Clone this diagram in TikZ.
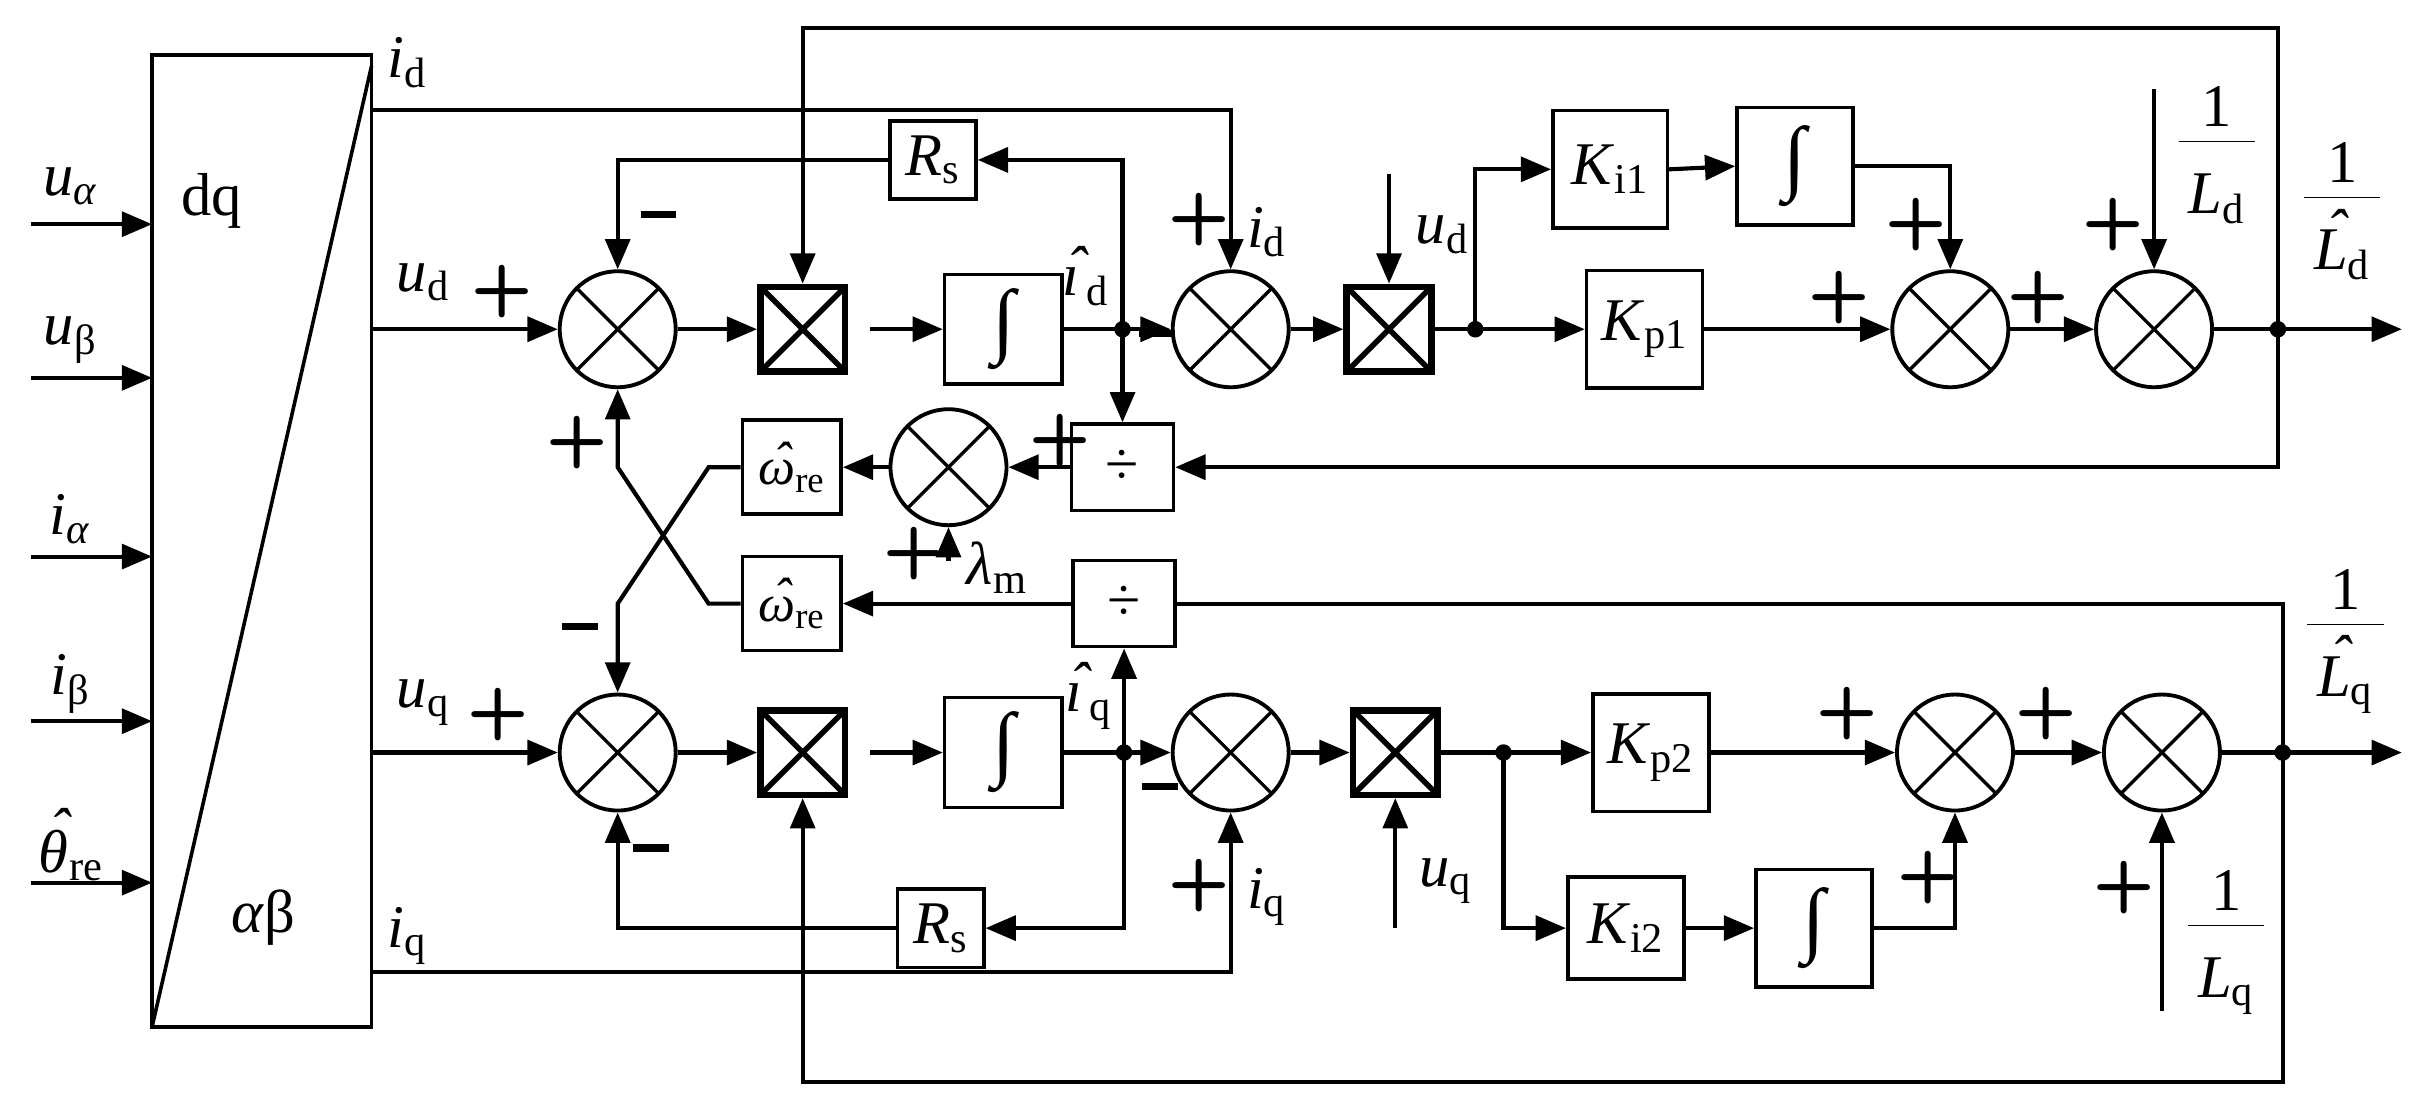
\documentclass[tikz,border=0pt]{standalone}
\usepackage{fontspec}
\setmainfont{Liberation Serif}
\usetikzlibrary{arrows.meta}
\newcommand{\vr}[2]{\textit{#1}\textsubscript{#2}}
\newcommand{\hh}[1]{\leavevmode\vbox{\offinterlineskip\halign{\hfil##\hfil\cr\kern0.2em\char"02C6\cr\noalign{\kern-0.75ex}#1\cr}}}
\newcommand{\fr}[1]{\begin{tabular}{@{\,}c@{\,}}1\\[-2pt]\hline\rule{0pt}{26pt}#1\end{tabular}}
\begin{document}
\begin{tikzpicture}[x=0.02cm,y=-0.02cm,line width=1.5pt,
  >={Triangle[length=11pt,width=9pt]},
  every node/.style={font=\fontsize{22}{24}\selectfont},
  sum/.style={circle,draw,line width=1.4pt,minimum size=1.48cm,inner sep=0pt,
    path picture={\draw[line width=1.2pt] ([shift={(45:0.74cm)}]path picture bounding box.center)--([shift={(225:0.74cm)}]path picture bounding box.center)
      ([shift={(135:0.74cm)}]path picture bounding box.center)--([shift={(315:0.74cm)}]path picture bounding box.center);}},
  mul/.style={rectangle,draw,line width=2.4pt,minimum size=1.08cm,inner sep=0pt,
    path picture={\draw[line width=2pt] (path picture bounding box.north west)--(path picture bounding box.south east)
      (path picture bounding box.north east)--(path picture bounding box.south west);}},
  blk/.style={rectangle,draw,line width=1.3pt,inner sep=0pt},
  intg/.style={blk,font=\fontsize{30}{30}\selectfont},
  om/.style={blk,font=\fontsize{19}{22}\selectfont},
  sg/.style={font=\sffamily\bfseries\fontsize{26}{26}\selectfont,inner sep=0pt},
  dot/.style={circle,fill,inner sep=0pt,minimum size=6pt}]
\def\mn{\rule[0.3ex]{13pt}{2.6pt}}
\useasboundingbox (0,0) rectangle (1550,701);
% dq block
\draw[line width=1.3pt] (97,35) rectangle (237,655);
\draw[line width=1.3pt] (97,655) -- (237,42);
\node (dq) at (135,128) {dq};
\node (ab) at (168,585) {\textit{α}β};
% inputs
\foreach \yy/\lab/\nm in {143/{\vr{u}{\textit{α}}}/a,241/{\vr{u}{β}}/b,355/{\vr{i}{\textit{α}}}/c,460/{\vr{i}{β}}/d,563/{\vr{\hh{θ}}{re}}/e}{
  \coordinate (in\nm) at (20,\yy);
  \coordinate (inb\nm) at (97,\yy);
  \draw[->] (in\nm) -- (inb\nm);
  \node (lab\nm) at (45,\yy-24) {\lab};
}
% output labels of dq
\node (lid) at (260,40) {\vr{i}{d}};
\node (lud) at (270,180) {\vr{u}{d}};
\node (luq) at (270,448) {\vr{u}{q}};
\node (liq) at (260,597) {\vr{i}{q}};
\coordinate (oid) at (237,70);
\coordinate (oud) at (237,210);
\coordinate (ouq) at (237,480);
\coordinate (oiq) at (237,620);
% d row
\node[sum] (sd1) at (394,210) {};
\node[mul] (md1) at (512,210) {};
\node[intg,minimum width=1.5cm,minimum height=1.4cm] (id1) at (640,210) {∫};
\coordinate (jd) at (716,210);
\node[sum] (sd2) at (785,210) {};
\node[mul] (md2) at (886,210) {};
\coordinate (dd2) at (941,210);
\node[blk,minimum width=1.46cm,minimum height=1.5cm] (ki1) at (1027,108) {\vr{K}{i1}};
\node[intg,minimum width=1.48cm,minimum height=1.5cm] (in1) at (1145,106) {∫};
\node[blk,minimum width=1.48cm,minimum height=1.5cm] (kp1) at (1049,210) {\vr{K}{p1}};
\node[sum] (sd3) at (1244,210) {};
\node[sum] (sd4) at (1374,210) {};
\coordinate (dD) at (1453,210);
\coordinate (oD) at (1532,210);
\node[blk,minimum width=1.1cm,minimum height=1.0cm] (rsd) at (595,102) {\vr{R}{s}};
\node[blk,minimum width=1.3cm,minimum height=1.1cm] (dvd) at (716,298) {÷};
\node[sum] (sl) at (605,298) {};
\node[om,minimum width=1.26cm,minimum height=1.2cm] (omd) at (505,298) {\vr{\hh{ω}}{re}};
\node[om,minimum width=1.26cm,minimum height=1.2cm] (omq) at (505,385) {\vr{\hh{ω}}{re}};
\node[blk,minimum width=1.3cm,minimum height=1.1cm] (dvq) at (717,385) {÷};
% q row
\node[sum] (sq1) at (394,480) {};
\node[mul] (mq1) at (512,480) {};
\node[intg,minimum width=1.5cm,minimum height=1.4cm] (iq1) at (640,480) {∫};
\coordinate (jq) at (717,480);
\node[sum] (sq2) at (785,480) {};
\node[mul] (mq2) at (890,480) {};
\coordinate (dq2) at (959,480);
\node[blk,minimum width=1.48cm,minimum height=1.5cm] (kp2) at (1053,480) {\vr{K}{p2}};
\node[blk,minimum width=1.48cm,minimum height=1.3cm] (ki2) at (1037,592) {\vr{K}{i2}};
\node[intg,minimum width=1.48cm,minimum height=1.5cm] (in2) at (1157,592) {∫};
\node[sum] (sq3) at (1247,480) {};
\node[sum] (sq4) at (1379,480) {};
\coordinate (dQ) at (1456,480);
\coordinate (oQ) at (1532,480);
\node[blk,minimum width=1.1cm,minimum height=1.0cm] (rsq) at (600,592) {\vr{R}{s}};
% connections d
\draw[->] (oud) -- (sd1.west);
\draw[->] (oid) -| (sd2.north);
\draw[->] (sd1.east) -- (md1.west);
\draw[->] (md1.east) ++(8pt,0) -- (id1.west);
\draw (id1.east) -- (jd);
\draw[->] (jd) -- (sd2.west);
\draw[->] (jd) |- (rsd.east);
\draw[->] (jd) -- (dvd.north);
\draw[->] (rsd.west) -| (sd1.north);
\draw[->] (sd2.east) -- (md2.west);
\coordinate (ud2) at (886,111);
\draw[->] (ud2) -- (md2.north);
\draw (md2.east) -- (dd2);
\draw[->] (dd2) -- (kp1.west);
\draw[->] (dd2) |- (ki1.west);
\draw[->] (ki1.east) -- (in1.west);
\draw[->] (in1.east) -| (sd3.north);
\draw[->] (kp1.east) -- (sd3.west);
\draw[->] (sd3.east) -- (sd4.west);
\coordinate (ld) at (1374,57);
\draw[->] (ld) -- (sd4.north);
\draw[->] (sd4.east) -- (oD);
\draw[->] (dD) -- (1453,18) -- (512,18) -- (md1.north);
\draw[->] (dD) |- (dvd.east);
\draw[->] (dvd.west) -- (sl.east);
\draw[->] (sl.west) -- (omd.east);
\coordinate (lm) at (605,358);
\draw[->] (lm) -- (sl.south);
\draw[->] (dvq.west) -- (omq.east);
\draw[->] (omd.west) -- (452,298) -- (394,385) -- (sq1.north);
\draw[->] (omq.west) -- (452,385) -- (394,298) -- (sd1.south);
% connections q
\draw[->] (ouq) -- (sq1.west);
\draw[->] (oiq) -| (sq2.south);
\draw[->] (sq1.east) -- (mq1.west);
\draw[->] (mq1.east) ++(8pt,0) -- (iq1.west);
\draw (iq1.east) -- (jq);
\draw[->] (jq) -- (sq2.west);
\draw[->] (jq) |- (rsq.east);
\draw[->] (jq) -- (dvq.south);
\draw[->] (rsq.west) -| (sq1.south);
\draw[->] (sq2.east) -- (mq2.west);
\coordinate (uq2) at (890,592);
\draw[->] (uq2) -- (mq2.south);
\draw (mq2.east) -- (dq2);
\draw[->] (dq2) -- (kp2.west);
\draw[->] (dq2) |- (ki2.west);
\draw[->] (ki2.east) -- (in2.west);
\draw[->] (in2.east) -| (sq3.south);
\draw[->] (kp2.east) -- (sq3.west);
\draw[->] (sq3.east) -- (sq4.west);
\coordinate (lq) at (1379,645);
\draw[->] (lq) -- (sq4.south);
\draw[->] (sq4.east) -- (oQ);
\draw (dvq.east) -- (1456,385) -- (dQ);
\draw[->] (dQ) -- (1456,690) -- (512,690) -- (mq1.south);
\node[dot] at (jd) {};
\node[dot] at (dd2) {};
\node[dot] at (dD) {};
\node[dot] at (jq) {};
\node[dot] at (dq2) {};
\node[dot] at (dQ) {};
% signs
\node[sg] (s1) at (320,186) {+};
\node[sg] (s2) at (420,140) {\mn};
\node[sg] (s3) at (368,282) {+};
\node[sg] (s4) at (370,403) {\mn};
\node[sg] (s5) at (318,456) {+};
\node[sg] (s6) at (415,544) {\mn};
\node[sg] (s7) at (765,140) {+};
\node[sg] (s8) at (738,216) {\mn};
\node[sg] (s9) at (676,281) {+};
\node[sg] (s10) at (583,353) {+};
\node[sg] (s11) at (740,505) {\mn};
\node[sg] (s12) at (765,565) {+};
\node[sg] (s13) at (1173,190) {+};
\node[sg] (s14) at (1222,143) {+};
\node[sg] (s15) at (1300,190) {+};
\node[sg] (s16) at (1348,143) {+};
\node[sg] (s17) at (1178,455) {+};
\node[sg] (s18) at (1305,455) {+};
\node[sg] (s19) at (1230,560) {+};
\node[sg] (s20) at (1355,566) {+};
% labels
\node (lidh) at (690,176) {\vr{\hh{ı}}{d}};
\node (liqh) at (692,444) {\vr{\hh{ı}}{q}};
\node (llm) at (636,362) {\vr{λ}{m}};
\node (lid2) at (808,148) {\vr{i}{d}};
\node (liq2) at (808,572) {\vr{i}{q}};
\node (lud2) at (920,150) {\vr{u}{d}};
\node (luq2) at (922,562) {\vr{u}{q}};
\node (fLd) at (1414,100) {\fr{\vr{L}{d}}};
\node (fLdh) at (1494,136) {\fr{\vr{\hh{L}}{d}}};
\node (fLqh) at (1496,408) {\fr{\vr{\hh{L}}{q}}};
\node (fLq) at (1420,600) {\fr{\vr{L}{q}}};
\end{tikzpicture}
\end{document}
